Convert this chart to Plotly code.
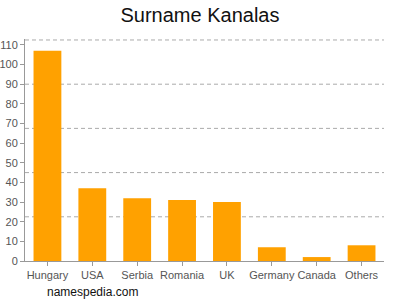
import plotly.graph_objects as go

categories = ["Hungary", "USA", "Serbia", "Romania", "UK", "Germany", "Canada", "Others"]
values = [107, 37, 32, 31, 30, 7, 2, 8]
y_ticks = [0, 10, 20, 30, 40, 50, 60, 70, 80, 90, 100, 110]
grid_vals = [22.5, 45, 67.5, 90, 112.5]

fig = go.Figure()
fig.add_trace(go.Bar(
    x=categories, y=values,
    marker=dict(color="#FFA100", line=dict(color="#FFB733", width=0)),
    width=0.62,
))

for g in grid_vals:
    fig.add_shape(type="line", xref="paper", yref="y", x0=0, x1=1, y0=g, y1=g,
                  line=dict(color="#AAAAAA", width=1, dash="4px,3px"), layer="below")

fig.update_layout(
    width=400, height=300,
    margin=dict(l=25, r=16, t=39, b=39),
    paper_bgcolor="white", plot_bgcolor="white",
    showlegend=False,
    font=dict(family="Liberation Sans, Arial, sans-serif", color="#555555", size=11),
    title=dict(text="Surname Kanalas", x=0.5, xanchor="center", y=0.95, yanchor="middle",
               font=dict(size=20, color="#111111")),
    xaxis=dict(
        showline=True, linecolor="#999999", linewidth=1,
        ticks="outside", ticklen=4, tickcolor="#999999", tickangle=0,
        showgrid=False, tickfont=dict(size=11, color="#555555"), automargin=False,
    ),
    yaxis=dict(
        range=[0, 113], tickvals=y_ticks,
        showline=True, linecolor="#999999", linewidth=1,
        ticks="outside", ticklen=4, tickcolor="#999999",
        showgrid=False, zeroline=False, tickfont=dict(size=11, color="#555555"),
        automargin=False,
    ),
)

fig.add_annotation(text="namespedia.com", xref="paper", yref="paper",
                   x=0.0557, y=-0.14, xanchor="left", yanchor="middle",
                   showarrow=False, font=dict(size=12, color="#111111"))

fig.write_html("out.html", config={"displayModeBar": False},
               post_script="document.body.style.margin='0';")
